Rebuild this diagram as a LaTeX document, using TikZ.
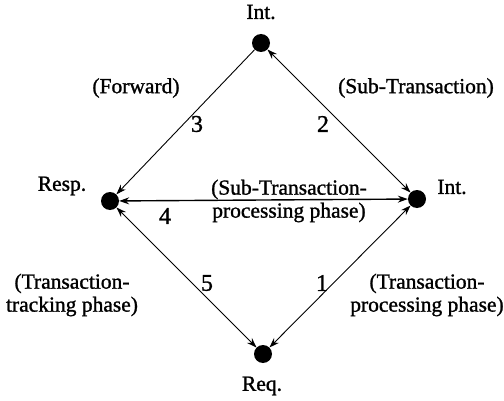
\documentclass[tikz,border=0pt]{standalone}
\usepackage{fontspec}
\setmainfont{Liberation Serif}[BoldFont={Liberation Serif}, BoldFeatures={FakeBold=1.2}]
\usetikzlibrary{positioning,arrows.meta}

\tikzset{
  dot/.style={circle, fill=black, inner sep=0pt, minimum size=18pt},
  lbl/.style={font=\fontsize{21.5}{23}\selectfont\bfseries, align=center, inner sep=0pt},
  num/.style={font=\fontsize{24}{26}\selectfont\bfseries, inner sep=0pt},
  arc/.style={line width=0.9pt, {Stealth[length=10pt,width=7pt]}-{Stealth[length=10pt,width=7pt]}}
}

\begin{document}
\begin{tikzpicture}[x=1pt,y=1pt]
    \useasboundingbox (0,0) rectangle (504,400);

    %punti
    \node[dot] (top) at (261,357) {};
    \node[dot] (resp) at (110,199) {};
    \node[dot] (int) at (417,201) {};
    \node[dot] (req) at (263,46) {};

    %nomi
    \node[lbl] (toplbl) at (261,388) {Int.};
    \node[lbl] (resplbl) at (62,214) {Resp.};
    \node[lbl] (intlbl) at (452,213) {Int.};
    \node[lbl] (reqlbl) at (262,14) {Req.};

    %frecce
    \draw[line width=0.9pt, -{Stealth[length=10pt,width=7pt]}] (top) -- (resp);
    \draw[arc] (top) -- (int);
    \draw[arc, line width=1.4pt] (resp) -- (int);
    \draw[arc] (resp) -- (req);
    \draw[arc] (int) -- (req);

    %numeri
    \node[num] (n3) at (197,276) {3};
    \node[num] (n2) at (323,276) {2};
    \node[num] (n4) at (165,184) {4};
    \node[num] (n5) at (207,117) {5};
    \node[num] (n1) at (322,117) {1};

    %fasi
    \node[lbl] (fwd) at (136,312) {(Forward)};
    \node[lbl] (sub) at (416,312) {(Sub-Transaction)};
    \node[lbl] (subproc) at (289,199) {(Sub-Transaction-\\processing phase)};
    \node[lbl] (track) at (72,105) {(Transaction-\\tracking phase)};
    \node[lbl] (proc) at (427,105) {(Transaction-\\processing phase)};
\end{tikzpicture}
\end{document}
